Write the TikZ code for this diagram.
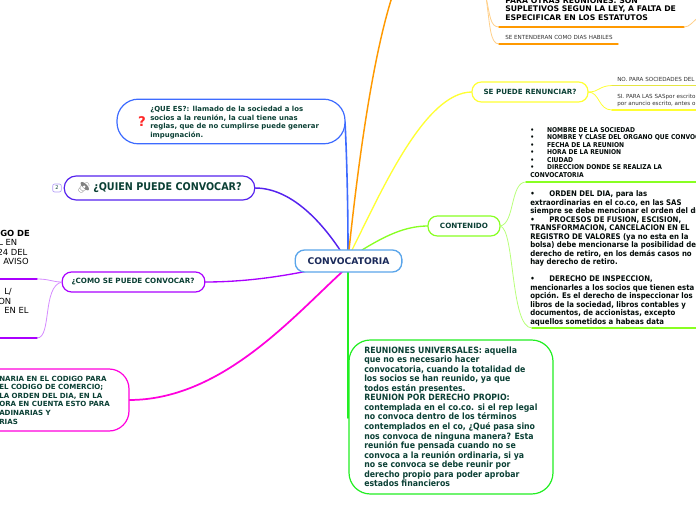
\documentclass[tikz,border=0pt]{standalone}
\usepackage{fontspec}
\setmainfont{DejaVu Sans}
\newfontfamily\nar{DejaVu Sans}[FakeStretch=0.9]
\newfontfamily\emo{Noto Emoji}
\definecolor{txt}{HTML}{0B4035}
\definecolor{navy}{HTML}{1B2A5A}
\definecolor{cblue}{HTML}{3D6BFF}
\definecolor{chub}{HTML}{5AA5EA}
\definecolor{cviolet}{HTML}{5522EE}
\definecolor{cpurple}{HTML}{AA00FF}
\definecolor{cpurplel}{HTML}{D58CFF}
\definecolor{cmag}{HTML}{FF00DD}
\definecolor{cgreen}{HTML}{22EE22}
\definecolor{cgreenl}{HTML}{88FF22}
\definecolor{cyel}{HTML}{FFFF33}
\definecolor{corange}{HTML}{FF9900}
\definecolor{corangel}{HTML}{FFD08A}
\tikzset{
 x=0.75pt,y=-0.75pt,
 box/.style={draw=#1,line width=0.9pt,fill=white,inner sep=0pt},
 lbl/.style={font=\fontsize{#1}{#1}\selectfont\bfseries,text=txt,inner sep=0pt},
 para/.style={anchor=north west,align=left,inner sep=0pt},
 conn/.style={line width=#1,line cap=round},
}
\begin{document}
\begin{tikzpicture}
\useasboundingbox (0,0) rectangle (696,520);
\clip (0,0) rectangle (696,520);
% coordinates
\coordinate (hub) at (349,250);
\coordinate (orangetop) at (392,-3);
\coordinate (hubr) at (362,250);
\coordinate (hubl) at (322,268);
\coordinate (hubb) at (348,272);
% connectors from the central node
\draw[conn=1.2pt,cblue] (348,250) .. controls (348,200) and (346.5,150) .. (345,122);
\draw[conn=1.1pt,cviolet] (340,250) .. controls (320,220) and (290,188) .. (255,188);
\draw[conn=1.1pt,corange] (hub) .. controls (358,165) and (372,60) .. (orangetop);
\draw[conn=1pt,cyel] (352,250) .. controls (382,190) and (425,92) .. (472,92);
\draw[conn=1pt,cgreenl] (hubr) .. controls (385,236) and (405,226) .. (428,226);
\draw[conn=1pt,cpurple] (hubl) .. controls (290,275) and (250,282) .. (205,282);
\draw[conn=1.3pt,cmag] (342,272) .. controls (290,320) and (220,400) .. (129,400);
\draw[conn=1.4pt,cgreen] (hubb) -- (348,418);
% central node
\node[draw=chub,line width=1pt,rounded corners=7pt,fill=white,minimum width=80pt,minimum height=16.5pt,inner sep=0pt,font=\fontsize{6.9}{7}\selectfont\bfseries,text=navy] (central) at (348.5,261) {CONVOCATORIA};
% QUE ES
\node[box=cblue,rounded corners=16pt,minimum width=171pt,minimum height=33.5pt] (quees) at (231,121.5) {};
\node[para,font=\fontsize{5.2}{6.45}\selectfont\bfseries,text=txt] (queestxt) at (150,106) {¿QUE ES?: llamado de la sociedad a los\\socios a la reunión, la cual tiene unas\\reglas, que de no cumplirse puede generar\\impugnación.};
\node[font=\fontsize{10}{10}\selectfont\bfseries,text=red!85!white,inner sep=0pt] (qmark) at (142,122) {?};
% QUIEN
\node[box=cviolet,rounded corners=9pt,minimum width=143pt,minimum height=18pt] (quien) at (159.5,188) {};
\node[lbl=8,anchor=west] (quientxt) at (93,188) {\nar ¿QUIEN PUEDE CONVOCAR?};
\node[draw=cviolet!45!white,fill=white,rounded corners=1.5pt,line width=0.5pt,minimum width=6.5pt,minimum height=6pt,inner sep=0pt,font=\fontsize{3.8}{4}\selectfont,text=txt] (badge) at (57,188) {2};
\node[font=\fontsize{8}{8}\selectfont\emo,text=gray,inner sep=0pt] (spk) at (84,188) {🔉};
% COMO
\node[box=cpurple,rounded corners=7pt,minimum width=107pt,minimum height=15pt] (como) at (133.5,282) {};
\node[lbl=5.4] (comotxt) at (133,282) {¿COMO SE PUEDE CONVOCAR?};
\draw[conn=0.6pt,cpurplel] (62,282) .. controls (52,282) and (50,279) .. (37,279);
\draw[conn=0.6pt,cpurplel] (62,282) .. controls (42,286) and (52,338) .. (37,338);
\draw[conn=1pt,cpurple] (-3,279) -- (37,279);
\draw[conn=1pt,cpurple] (-3,338) -- (37,338);
\node[para,font=\fontsize{6.3}{7.05}\selectfont,text=black] (como1) at (-4,230) {\hspace*{3pt}\textbf{GO DE}\\\hspace*{1.5pt}L EN\\\hspace*{1pt}24 DEL\\\hspace*{5.25pt}AVISO};
\node[para,font=\fontsize{6.3}{7.15}\selectfont,text=black] (como2) at (-4,288.5) {\hspace*{6pt}L/\\\hspace*{1.5pt}ON\\\hspace*{6pt}EN EL};
% MAGENTA
\node[box=cmag,rounded corners=15pt,minimum width=120pt,minimum height=46.5pt] (mag) at (49,400) {};
\node[para,font=\fontsize{5.3}{6.45}\selectfont\bfseries,text=txt] (magtxt) at (-1,375.5) {NARIA EN EL CODIGO PARA\\EL CODIGO DE COMERCIO;\\LA ORDEN DEL DIA, EN LA\\ORA EN CUENTA ESTO PARA\\ADINARIAS Y\\RIAS};
% GREEN
\node[box=cgreen,rounded corners=16pt,minimum width=153pt,minimum height=115.5pt] (big) at (451,417) {};
\node[para,font=\fontsize{6.5}{7.14}\selectfont\bfseries\nar,text=txt] (bigtxt) at (364,346.5) {REUNIONES UNIVERSALES: aquella\\que no es necesario hacer\\convocatoria, cuando la totalidad de\\los socios se han reunido, ya que\\todos están presentes.\\REUNION POR DERECHO PROPIO:\\contemplada en el co.co. si el rep legal\\no convoca dentro de los términos\\contemplados en el co, ¿Qué pasa sino\\nos convoca de ninguna manera? Esta\\reunión fue pensada cuando no se\\convoca a la reunión ordinaria, si ya\\no se convoca se debe reunir por\\derecho propio para poder aprobar\\estados financieros};
% CONTENIDO
\node[box=cgreenl,rounded corners=7pt,minimum width=54pt,minimum height=15pt] (cont) at (464,226) {};
\node[lbl=5.4] (conttxt) at (464,226) {CONTENIDO};
\draw[conn=0.6pt,cgreenl!60!white] (500,226) .. controls (515,224) and (510,182) .. (526,182);
\draw[conn=0.6pt,cgreenl!60!white] (500,226) .. controls (515,228) and (510,328) .. (532,328);
\draw[conn=1pt,cgreenl] (526,182) -- (700,182);
\draw[conn=1pt,cgreenl] (532,328) -- (700,328);
\node[para,font=\fontsize{5}{5.6}\selectfont\bfseries\nar,text=black!85!txt] (list) at (530,127) {•\hspace{9.75pt}NOMBRE DE LA SOCIEDAD\\•\hspace{9.75pt}NOMBRE Y CLASE DEL ORGANO QUE CONVOCA\\•\hspace{9.75pt}FECHA DE LA REUNION\\•\hspace{9.75pt}HORA DE LA REUNION\\•\hspace{9.75pt}CIUDAD\\•\hspace{9.75pt}DIRECCION DONDE SE REALIZA LA\\CONVOCATORIA};
\node[para,font=\fontsize{5.8}{6.38}\selectfont\bfseries\nar,text=black!85!txt] (detail) at (530,190.5) {•\hspace{11pt}ORDEN DEL DIA, para las\\extraordinarias en el co.co, en las SAS\\siempre se debe mencionar el orden del día\\•\hspace{11pt}PROCESOS DE FUSION, ESCISION,\\TRANSFORMACION, CANCELACION EN EL\\REGISTRO DE VALORES (ya no esta en la\\bolsa) debe mencionarse la posibilidad de\\derecho de retiro, en los demás casos no\\hay derecho de retiro.\\[6.38pt]•\hspace{11pt}DERECHO DE INSPECCION,\\mencionarles a los socios que tienen esta\\opción. Es el derecho de inspeccionar los\\libros de la sociedad, libros contables y\\documentos, de accionistas, excepto\\aquellos sometidos a habeas data};
% RENUNCIAR
\node[box=cyel,rounded corners=7pt,minimum width=87pt,minimum height=15pt] (ren) at (530,92) {};
\node[lbl=5.35] (rentxt) at (530,92) {SE PUEDE RENUNCIAR?};
\draw[conn=0.6pt,cyel] (588,92) .. controls (600,92) and (598,86) .. (612,85.5);
\draw[conn=0.6pt,cyel] (588,92) .. controls (600,92) and (598,110) .. (612,110);
\draw[conn=0.6pt,cyel!80!gray] (612,85.5) -- (700,85.5);
\draw[conn=1pt,cyel] (612,110) -- (700,110);
\node[para,font=\fontsize{4.2}{5}\selectfont,text=black!80] (no) at (617,77) {NO. PARA SOCIEDADES DEL CO};
\node[para,font=\fontsize{4.2}{5.3}\selectfont,text=black!80] (si) at (617,94) {SI. PARA LAS SASpor escrito\\por anuncio escrito, antes o};
% ORANGE
\draw[conn=0.6pt,corangel] (486,-3) .. controls (490,15) and (490,27) .. (499,27);
\draw[conn=0.6pt,corangel] (486,-3) .. controls (490,25) and (490,44) .. (499,44);
\draw[conn=1pt,corange] (499,27) -- (684,27);
\draw[conn=1pt,corange] (499,44) -- (618,44);
\draw[conn=0.6pt,corangel] (684,27) .. controls (690,27) and (692,22) .. (700,16);
\node[para,font=\fontsize{5.8}{6.6}\selectfont\bfseries,text=black] (sup) at (505,-3) {PARA OTRAS REUNIONES. SON\\SUPLETIVOS SEGUN LA LEY, A FALTA DE\\ESPECIFICAR EN LOS ESTATUTOS};
\node[para,font=\fontsize{4.2}{5}\selectfont,text=black!80] (hab) at (505,35) {SE ENTENDERAN COMO DIAS HABILES};
\end{tikzpicture}
\end{document}
